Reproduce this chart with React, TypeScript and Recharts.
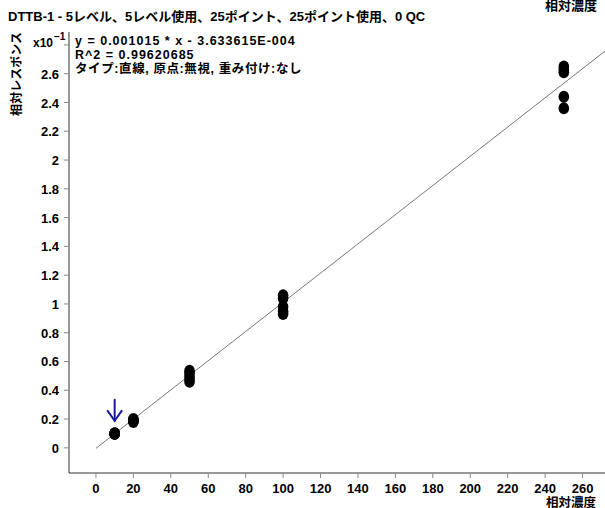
import React from "react";
import {
  ScatterChart,
  Scatter,
  XAxis,
  YAxis,
  ReferenceLine,
} from "recharts";

// Calibration levels (relative concentration) and responses shown in ×10^-1 units
const conc10 = [10, 10, 10, 10, 10];
const resp10 = [0.097, 0.099, 0.1, 0.102, 0.098];
const conc20 = [20, 20, 20, 20, 20];
const resp20 = [0.18, 0.185, 0.19, 0.195, 0.2];
const conc50 = [50, 50, 50, 50, 50];
const resp50 = [0.46, 0.48, 0.5, 0.52, 0.535];
const conc100 = [100, 100, 100, 100, 100];
const resp100 = [1.06, 1.04, 0.98, 0.95, 0.93];
const conc250 = [250, 250, 250, 250, 250];
const resp250 = [2.65, 2.63, 2.61, 2.44, 2.36];

// Linear fit: y = SLOPE * x + INTERCEPT (raw units); axis shows values ×10
const SLOPE = 0.001015;
const INTERCEPT = -3.633615e-4;
const AXIS_SCALE = 10;

const xTicks = [0, 20, 40, 60, 80, 100, 120, 140, 160, 180, 200, 220, 240, 260];
const yTicks = [0, 0.2, 0.4, 0.6, 0.8, 1, 1.2, 1.4, 1.6, 1.8, 2, 2.2, 2.4, 2.6, 2.8];
const yTickLabels = ["0", "0.2", "0.4", "0.6", "0.8", "1", "1.2", "1.4", "1.6", "1.8", "2", "2.2", "2.4", "2.6", ""];

const X_DOMAIN: [number, number] = [-14.4, 272];
const Y_DOMAIN: [number, number] = [-0.175, 2.89];

// Marked (flagged) point gets an arrow above it
const flaggedConc = [10];
const flaggedResp = [0.097];

const zip = (xs: number[], ys: number[]) => xs.map((x, i) => ({ x, y: ys[i] }));
const points = [
  ...zip(conc10, resp10),
  ...zip(conc20, resp20),
  ...zip(conc50, resp50),
  ...zip(conc100, resp100),
  ...zip(conc250, resp250),
];
const flagged = zip(flaggedConc, flaggedResp);

const fitStart = { x: 0, y: INTERCEPT * AXIS_SCALE };
const fitEnd = { x: X_DOMAIN[1], y: (SLOPE * X_DOMAIN[1] + INTERCEPT) * AXIS_SCALE };

const FONT = "'Liberation Sans', Arial, 'Noto Sans CJK JP', sans-serif";
const JP_FONT = "'Liberation Sans', 'Noto Sans CJK JP', sans-serif";

const Dot = (props: any) => {
  const { cx, cy } = props;
  if (cx == null || cy == null) return null;
  return <ellipse cx={cx} cy={cy} rx={5.3} ry={6} fill="#000" />;
};

const Arrow = (props: any) => {
  const { cx, cy } = props;
  if (cx == null || cy == null) return null;
  const top = cy - 34;
  const tip = cy - 13;
  return (
    <g stroke="#1a1aa0" strokeWidth={2} fill="none" strokeLinecap="round">
      <line x1={cx} y1={top} x2={cx} y2={tip} />
      <polyline points={`${cx - 7},${tip - 10} ${cx},${tip} ${cx + 7},${tip - 10}`} />
    </g>
  );
};

const XTick = (props: any) => {
  const { x, y, payload } = props;
  return (
    <text x={x} y={y + 13} textAnchor="middle" fontSize={13} fontWeight={700} fontFamily={FONT} fill="#000">
      {payload.value}
    </text>
  );
};

const YTick = (props: any) => {
  const { x, y, payload } = props;
  const i = yTicks.findIndex((t) => Math.abs(t - payload.value) < 1e-9);
  const label = i >= 0 ? yTickLabels[i] : "";
  return (
    <text x={x - 3} y={y + 5} textAnchor="end" fontSize={13} fontWeight={700} fontFamily={FONT} fill="#000">
      {label}
    </text>
  );
};

export default function App() {
  return (
    <div style={{ position: "absolute", left: 0, top: 0, width: 605, height: 508, background: "#fff" }}>
      <ScatterChart
        width={605}
        height={508}
        margin={{ top: 32, right: 0, bottom: 0, left: 0 }}
      >
        <XAxis
          type="number"
          dataKey="x"
          domain={X_DOMAIN}
          ticks={xTicks}
          allowDataOverflow
          height={35}
          tickSize={5}
          stroke="#333"
          tickLine={{ stroke: "#888" }}
          tick={<XTick />}
          interval={0}
        />
        <YAxis
          type="number"
          dataKey="y"
          domain={Y_DOMAIN}
          ticks={yTicks}
          allowDataOverflow
          width={69}
          tickSize={5}
          stroke="#333"
          tickLine={{ stroke: "#888" }}
          tick={<YTick />}
          interval={0}
        />
        <ReferenceLine
          segment={[fitStart, fitEnd]}
          stroke="#777"
          strokeWidth={1}
          ifOverflow="hidden"
        />
        <Scatter data={points} shape={<Dot />} isAnimationActive={false} />
        <Scatter data={flagged} shape={<Arrow />} isAnimationActive={false} />
      </ScatterChart>
      <svg
        width={605}
        height={508}
        style={{ position: "absolute", left: 0, top: 0, pointerEvents: "none" }}
      >
        <text x={8} y={21} fontSize={13} fontWeight={700} fontFamily={JP_FONT} fill="#000">
          DTTB-1 - 5レベル、5レベル使用、25ポイント、25ポイント使用、0 QC
        </text>
        <text x={545} y={10} fontSize={13} fontWeight={700} fontFamily={JP_FONT} fill="#000">
          相対濃度
        </text>
        <text x={546} y={507} fontSize={12.5} fontWeight={700} fontFamily={JP_FONT} fill="#000">
          相対濃度
        </text>
        <text
          x={21}
          y={74}
          fontSize={12}
          fontWeight={700}
          fontFamily={JP_FONT}
          fill="#000"
          textAnchor="middle"
          transform="rotate(-90 21 74)"
        >
          相対レスポンス
        </text>
        <text x={33} y={47} fontSize={12} fontWeight={700} fontFamily={FONT} fill="#000">
          x10
        </text>
        <text x={54} y={40} fontSize={10} fontWeight={700} fontFamily={FONT} fill="#000">
          −1
        </text>
        <g fontSize={12.5} fontWeight={700} fontFamily={JP_FONT} fill="#000">
          <text x={75} y={45} letterSpacing={1}>y = 0.001015 * x  - 3.633615E-004</text>
          <text x={75} y={59} letterSpacing={1}>R^2 = 0.99620685</text>
          <text x={75} y={73} letterSpacing={0.6}>タイプ:直線, 原点:無視, 重み付け:なし</text>
        </g>
      </svg>
    </div>
  );
}
